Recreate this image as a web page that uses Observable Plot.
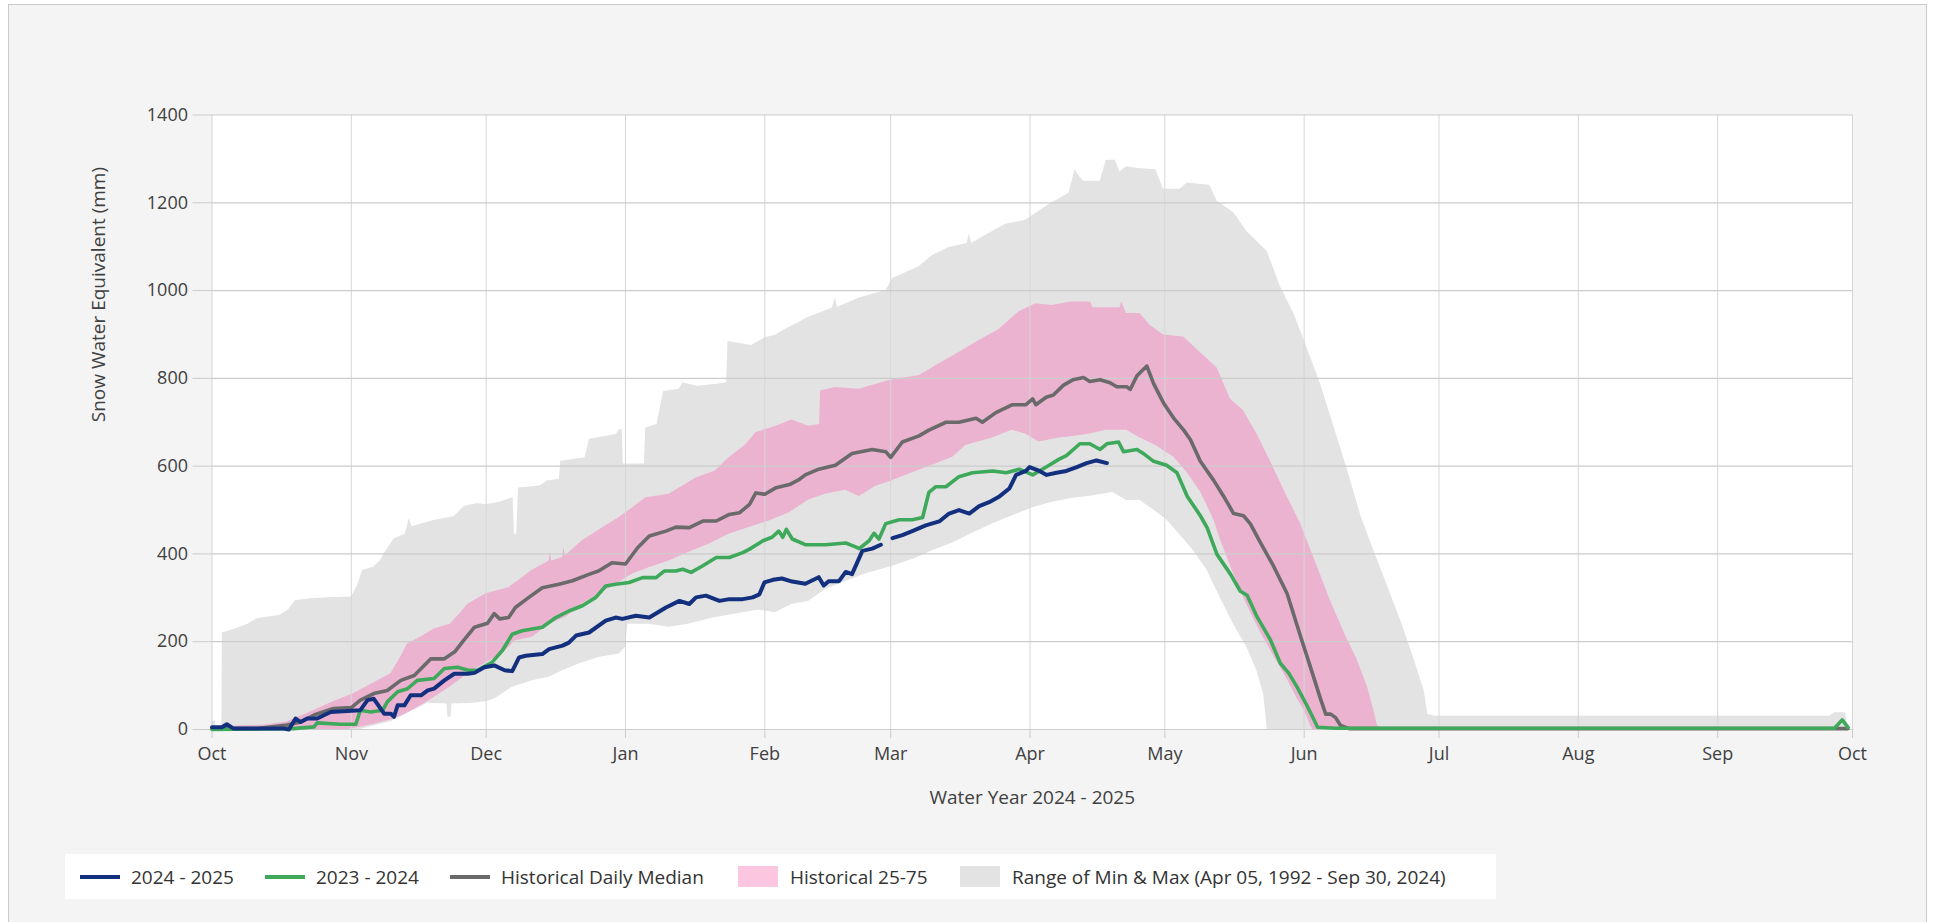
<!DOCTYPE html>
<html><head><meta charset="utf-8">
<script src="https://cdn.jsdelivr.net/npm/d3@7"></script>
<script src="https://cdn.jsdelivr.net/npm/@observablehq/plot@0.6"></script>
<style>
html,body{margin:0;padding:0;background:#fff;width:1933px;height:922px;overflow:hidden;font-family:"Open Sans",sans-serif;}
#panel{position:absolute;left:8px;top:4px;width:1919px;height:940px;background:#f4f4f4;border:1px solid #c9c9c9;box-sizing:border-box;}
#chart{position:absolute;left:0;top:0;}
#legend{position:absolute;left:65px;top:854px;width:1431px;height:45px;background:#fff;}
.item{position:absolute;top:0;height:45px;display:flex;align-items:center;font-size:19px;color:#333;white-space:nowrap;}
.ln{width:40px;height:4px;margin-right:11px;}
.sw{width:40px;height:21px;margin-right:12px;}
</style></head><body>
<div id="panel"></div><div id="chart"></div><div id="legend"></div>
<script>
// day offset from Oct 1 2024, SWE (mm)
const maxPts = [[0,18],[0.8,18],[0.9,0],[2.2,0],[2.3,220],[4,225],[6,232],[8,240],[10,252],[12,256],[15,260],[17,272],[18.6,294],[22,298],[26,300],[31,302],[32.3,325],[33.5,362],[36,370],[37.5,385],[38.3,400],[40.5,434],[43,445],[43.9,480],[44.5,462],[49.4,476],[53.9,485],[56.1,508],[59.1,515],[61,512],[64,518],[67,528],[67.3,445],[67.8,445],[68.2,550],[73,555],[74.6,566],[77.3,570],[77.6,611],[83,619],[84,661],[90,672],[90.6,683],[91.3,683],[91.5,605],[96.2,605],[96.5,687],[99,695],[100.5,770],[104,775],[104.7,790],[108,782],[112,786],[114.5,790],[114.8,884],[120,875],[123,892],[125.5,899],[127.6,912],[132.8,939],[138,960],[138.7,983],[139.2,962],[144,983],[150,1000],[151.4,1027],[157.3,1054],[160.3,1080],[164,1098],[168,1107],[168.5,1129],[169,1107],[172,1125],[176.6,1151],[181,1160],[186.3,1196],[190.7,1222],[192,1275],[193,1260],[194,1249],[197.6,1249],[199,1297],[201,1297],[202,1270],[203.5,1282],[206,1278],[210,1275],[211.7,1231],[215.4,1231],[217,1245],[222,1240],[223.6,1204],[227.3,1178],[230.3,1134],[234.8,1089],[237.7,1009],[240.7,948],[243.7,868],[246.6,788],[249.6,691],[252.6,593],[255.6,487],[258.5,407],[261.5,328],[264.5,248],[267.5,159],[269.7,89],[270.5,35],[272,30],[300,30],[330,30],[360,30],[361,38],[363.5,38],[364,5],[364.5,0]];

const p75Pts = [[0,0],[4,0],[5,8],[12,10],[16.7,17],[21,36],[27,63],[31.6,82],[35,101],[39.8,127],[42,165],[43.5,195],[46.5,211],[49.4,229],[53,240],[55,262],[57,286],[61,309],[66,323],[69,345],[71,361],[75,384],[75.3,403],[75.6,384],[78,392],[78.3,414],[78.6,395],[82.4,430],[87,460],[90.6,483],[93.6,505],[96.5,528],[101.7,536],[107.7,573],[112,589],[115,619],[118.8,649],[121,676],[125.5,691],[129,705],[132.8,691],[135.2,695],[135.4,771],[138.7,779],[144,775],[148.4,788],[151.4,797],[157.3,806],[161.8,833],[166.2,859],[170.7,886],[175.2,912],[179.6,952],[183.3,970],[187,966],[191,974],[195.5,974],[196,961],[202,961],[202.4,974],[203.5,948],[206.5,948],[208.7,921],[211.7,899],[216.2,894],[219.9,859],[223.6,824],[226.6,753],[229.5,726],[232.5,673],[235.5,611],[239.2,531],[242.2,469],[245.9,372],[248.9,292],[251.9,221],[254.8,159],[257.1,97],[258.5,44],[259.3,9],[260,3],[364,3],[364.5,0]];

const p25Pts = [[0,0],[30,0],[33,5],[36,12],[40,22],[43.5,36],[49,70],[53,97],[57,127],[61,152],[64.6,172],[67.5,202],[71.3,210],[75,240],[78.7,255],[82.4,286],[86,308],[90,331],[93.6,354],[97.4,369],[101.7,384],[106,403],[110.6,422],[115,445],[119.5,460],[124,475],[128.5,494],[132.8,523],[136.5,536],[141,545],[144,531],[147.7,554],[151.4,567],[155.8,585],[160.3,602],[164.8,620],[167.7,647],[173.7,664],[178,682],[181,673],[184,655],[188.5,664],[193,669],[195.3,673],[199,682],[203.5,682],[206.5,664],[210,647],[214,620],[217,585],[220,540],[222.9,478],[224.3,434],[227.3,354],[230.3,283],[233.3,221],[236.2,168],[239.2,115],[241.4,71],[243,44],[244.4,9],[245,0],[364.5,0]];

const minPts = [[0,0],[33,0],[36,8],[40,18],[44,40],[48,60],[52.3,58],[52.5,28],[53.2,28],[53.4,58],[58,60],[61,63],[63,70],[66.8,96],[71.3,111],[75,119],[78,134],[81.7,149],[86,164],[90.6,172],[92,187],[92.5,240],[97.3,240],[101.7,233],[106,240],[112,255],[116.6,263],[121.8,272],[125.3,266],[129,285],[132.8,292],[136.5,319],[141,337],[145.4,354],[151.4,372],[156.6,390],[160.3,407],[164.8,425],[169.2,447],[173.7,469],[178.1,487],[182.6,505],[187,518],[191.5,527],[195,531],[200.5,540],[203.5,522],[206.5,522],[209.5,500],[212.4,478],[215.4,443],[218.4,407],[221.4,363],[224.3,301],[227.3,239],[230.3,186],[232.5,133],[234,80],[234.8,0],[364.5,0]];

const medianPts = [[0,2],[10,2],[16.7,10],[19.7,17],[22.7,33],[27,48],[31,50],[33,67],[36,82],[39,89],[42,112],[45,123],[48.7,161],[51.7,161],[54,177],[56,203],[58.4,233],[61.3,242],[62.8,264],[64,252],[66,255],[67.5,278],[70.5,301],[73.5,323],[77.2,331],[80.2,339],[84,354],[86,361],[89,380],[92,377],[94.7,414],[97.3,441],[101,452],[103.2,461],[106.2,460],[109.2,475],[112.2,475],[115.1,490],[117.4,494],[119.6,513],[121,539],[123,536],[125.5,551],[128.5,558],[130.7,570],[132,580],[135,593],[138.7,602],[142.4,629],[146.9,638],[149.9,633],[151,620],[153.6,655],[157.3,669],[159.5,682],[163.3,700],[166.2,700],[170,709],[171.4,700],[174.4,722],[178.1,740],[181.1,740],[182.6,753],[183.3,740],[185.6,757],[187.2,762],[189.4,784],[191.6,797],[193.9,802],[195.3,793],[197.6,797],[199.8,790],[201.3,781],[203.5,781],[204.3,775],[205.8,806],[208,828],[209.5,788],[211.7,744],[214,709],[216.2,682],[217.7,660],[219.9,611],[222.9,567],[225.1,531],[227.3,492],[229.5,487],[231,469],[233.3,425],[236.2,372],[239.2,310],[242.2,212],[244.4,142],[246.6,71],[247.8,35],[248.9,35],[250,27],[251.1,9],[253,2],[364,2]];

const swe2324 = [[0,0],[18,2],[22.7,6],[23.4,15],[28.6,12],[32,12],[33,44],[35.3,40],[38,44],[39,63],[41.3,86],[43.5,93],[45.7,112],[49.4,116],[51.7,139],[54.6,142],[57,135],[59,135],[62.3,153],[64.6,180],[66.8,217],[69,225],[73.5,233],[76.5,255],[79.4,270],[82.4,282],[85.4,301],[87.6,327],[89.8,331],[92.8,335],[95.8,346],[98.8,346],[100.6,361],[103.2,361],[104.7,365],[106.6,358],[109.2,373],[112.2,392],[115.1,392],[118.1,403],[119.6,411],[122.6,430],[124.6,438],[126.1,452],[127,438],[127.8,456],[129.1,434],[132,421],[136.5,421],[141,425],[143.2,416],[144,412],[146.2,430],[147.3,447],[148.4,434],[149.9,469],[152.9,478],[155.8,478],[158.1,483],[159.5,540],[161,553],[163.3,553],[166.2,576],[169.2,585],[173.7,589],[176.7,585],[179.6,593],[182.6,580],[185.6,598],[188.5,616],[190.1,624],[193.1,651],[195.3,651],[197.6,638],[199.1,651],[201.7,655],[202.8,633],[205.8,638],[207.2,629],[209.5,611],[212.4,602],[214.7,585],[217,531],[219.9,487],[221.4,460],[223.6,399],[226.6,354],[228.8,315],[230.3,306],[232.5,257],[235.5,204],[237.7,151],[239.6,128],[241.4,97],[243.7,53],[246,5],[250,3],[361,3],[362.7,22],[364,5]];

const swe2425 = [[0,5],[2.2,5],[3.3,12],[4.8,2],[16,2],[17.1,0],[18.6,25],[19.7,17],[21.2,25],[23.4,25],[26.4,40],[33,44],[34.6,67],[36,70],[38.3,36],[39.8,36],[40.5,29],[41.3,55],[42.8,55],[44.2,78],[46.5,78],[48,89],[49.4,93],[51.7,112],[53.9,127],[56.9,127],[58.4,129],[60.6,142],[62.8,146],[65.1,135],[66.8,133],[68.3,164],[69.8,168],[73.5,172],[75,183],[78,191],[79.4,198],[81,214],[83.9,221],[87.6,248],[89.8,255],[91.3,252],[94.3,259],[97.3,255],[101,278],[104,293],[106.2,286],[107.7,301],[109.9,305],[112.9,293],[115.1,297],[118.1,297],[120.3,301],[121.8,308],[122.9,335],[124.8,341],[126.8,344],[129.1,337],[132,332],[135,347],[136.1,328],[137.2,338],[139.5,338],[141,359],[142.4,354],[144.7,407],[146.9,412],[148.8,421],[150,null],[151.4,436],[153.6,443],[155.8,452],[158.8,465],[161.8,474],[164,492],[166.2,500],[168.5,492],[170.7,509],[172.9,518],[175.2,531],[177.4,549],[178.9,580],[181.1,589],[181.9,598],[184.1,589],[185.7,580],[187.9,585],[190.1,589],[192.4,598],[194.6,607],[196.8,613],[199.1,607]];

const yTickValues = [0, 200, 400, 600, 800, 1000, 1200, 1400];
const legendLabels = ["2024 - 2025", "2023 - 2024", "Historical Daily Median", "Historical 25-75", "Range of Min & Max (Apr 05, 1992 - Sep 30, 2024)"];
const legendColors = ["#13307f", "#3ea95a", "#6a6a6a", "#fcc6e1", "#e3e3e3"];
const legendKinds = ["line", "line", "line", "box", "box"];
const xLabel = "Water Year 2024 - 2025";
const yLabel = "Snow Water Equivalent (mm)";

const start = Date.UTC(2024, 9, 1);
const toDate = d => new Date(start + d * 864e5);
const rows = pts => pts.map(([d, v]) => ({date: toDate(d), swe: v}));
const monthTicks = d3.utcMonth.range(new Date(start), new Date(Date.UTC(2025, 9, 2)));

const chart = Plot.plot({
  width: 1933, height: 830,
  marginLeft: 211.5, marginRight: 81, marginTop: 114.5, marginBottom: 101,
  style: {background: "transparent", fontFamily: "Open Sans", overflow: "visible"},
  x: {type: "utc", domain: [new Date(start), new Date(Date.UTC(2025, 9, 1))]},
  y: {domain: [0, 1400]},
  marks: [
    Plot.frame({fill: "white", stroke: "none"}),
    Plot.areaY(rows(maxPts), {x: "date", y: "swe", fill: "#e3e3e3"}),
    Plot.areaY(rows(p75Pts), {x: "date", y: "swe", fill: "#ecb3d1"}),
    Plot.areaY(rows(p25Pts), {x: "date", y: "swe", fill: "#e3e3e3"}),
    Plot.areaY(rows(minPts), {x: "date", y: "swe", fill: "white"}),
    Plot.gridX({ticks: monthTicks, stroke: "#d6d6d6", strokeOpacity: 1}),
    Plot.gridY({ticks: yTickValues, stroke: "#cccccc", strokeOpacity: 1, strokeWidth: 1.2}),
    Plot.axisX({ticks: monthTicks, tickFormat: d3.utcFormat("%b"), tickSize: 9, tickPadding: 9, stroke: "#cccccc", fill: "#404040", fontSize: 18, label: null}),
    Plot.axisY({ticks: yTickValues, tickFormat: d3.format("d"), tickSize: 19, tickPadding: 5, stroke: "#cccccc", fill: "#404040", fontSize: 18, label: null}),
    Plot.line(rows(medianPts), {x: "date", y: "swe", stroke: "#6a6a6a", strokeWidth: 3.6}),
    Plot.line(rows(swe2324), {x: "date", y: "swe", stroke: "#3ea95a", strokeWidth: 3.6}),
    Plot.line(rows(swe2425), {x: "date", y: "swe", stroke: "#13307f", strokeWidth: 4}),
    Plot.text([xLabel], {frameAnchor: "bottom", dy: 74, fontSize: 19, fill: "#404040"}),
    Plot.text([yLabel], {frameAnchor: "left", dx: -113, rotate: -90, fontSize: 19, fill: "#404040"})
  ]
});
document.getElementById("chart").appendChild(chart);

const legendLeft = [15, 200, 385, 673, 895];
const legend = document.getElementById("legend");
legendLabels.forEach((lab, i) => {
  const it = document.createElement("div");
  it.className = "item";
  it.style.left = legendLeft[i] + "px";
  const s = document.createElement("div");
  s.className = legendKinds[i] === "line" ? "ln" : "sw";
  s.style.background = legendColors[i];
  const t = document.createElement("span");
  t.textContent = lab;
  it.appendChild(s); it.appendChild(t);
  legend.appendChild(it);
});
</script></body></html>
